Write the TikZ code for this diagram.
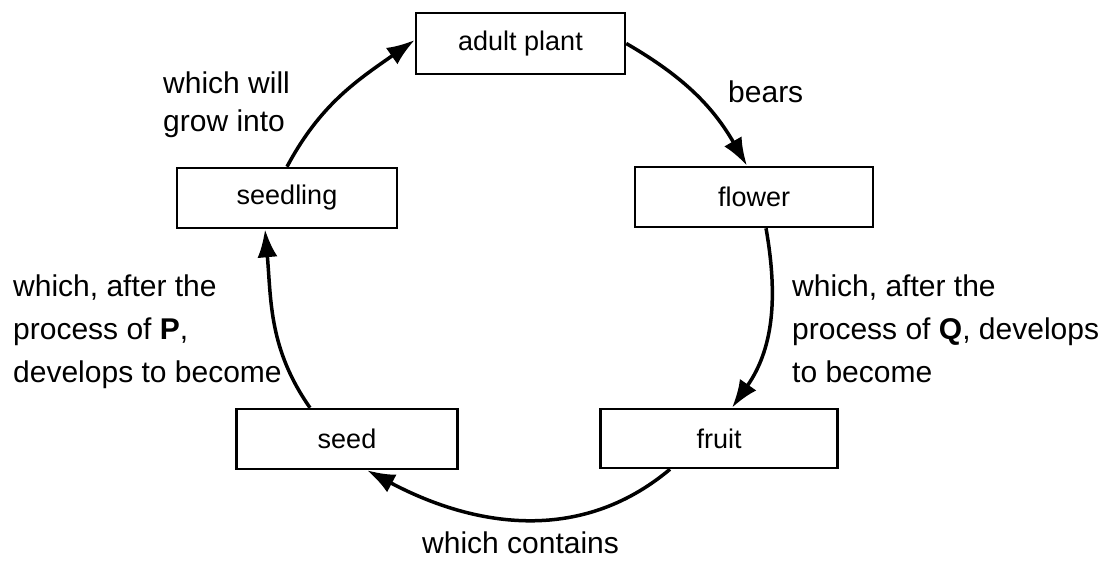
\documentclass[tikz,border=0pt]{standalone}
\usepackage{fontspec}
\setmainfont{Liberation Sans}
\usetikzlibrary{arrows.meta}
\tikzset{
  box/.style={draw, line width=2.5pt, inner sep=0pt, font=\fontsize{27}{32}\selectfont},
  lbl/.style={inner sep=0pt, align=left, anchor=north west},
  flow/.style={line width=3.5pt, -{Latex[length=28pt,width=20pt]}}
}
\begin{document}
\begin{tikzpicture}[x=1pt,y=1pt]
\useasboundingbox (0,0) rectangle (1110,-561);
% boxes
\node[box, minimum width=209pt, minimum height=61pt] (adult) at (520.5,-43.5) {adult plant};
\node[box, minimum width=238pt, minimum height=60pt] (flower) at (754,-197) {flower};
\node[box, minimum width=220pt, minimum height=60pt] (seedling) at (287,-198) {seedling};
\node[box, minimum width=221pt, minimum height=60pt] (seed) at (347,-439) {seed};
\node[box, minimum width=237pt, minimum height=59pt] (fruit) at (719,-438.5) {fruit};
% connectors
\draw[flow] (seedling.north) to[out=62,in=215] ([yshift=3.5pt]adult.west);
\draw[flow] (adult.east) to[out=-30,in=120] ([xshift=-7pt]flower.north);
\draw[flow] ([xshift=12pt]flower.south) to[out=-80,in=55] ([xshift=13pt]fruit.north);
\draw[flow] ([xshift=-49pt]fruit.south) to[out=-140,in=-28] ([xshift=20pt]seed.south);
\draw[flow] ([xshift=-37pt]seed.north) to[out=125,in=-85] ([xshift=-22pt]seedling.south);
% labels
\node[lbl, font=\fontsize{30}{38}\selectfont] (l1) at (163,-72) {which will\\grow into};
\node[lbl, font=\fontsize{30}{43}\selectfont] (l2) at (13,-275) {which, after the\\process of \textbf{P},\\develops to become};
\node[lbl, font=\fontsize{30}{43}\selectfont] (l3) at (792,-275) {which, after the\\process of \textbf{Q}, develops\\to become};
\node[lbl, font=\fontsize{30}{36}\selectfont] (l4) at (728,-81) {bears};
\node[lbl, font=\fontsize{30}{36}\selectfont] (l5) at (422,-532) {which contains};
\end{tikzpicture}
\end{document}
